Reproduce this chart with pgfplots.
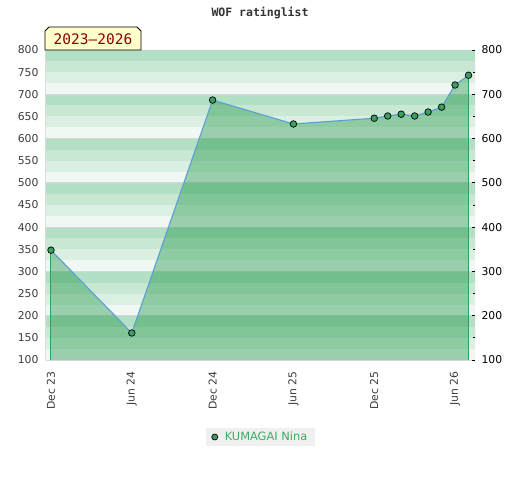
\documentclass[border=0pt]{standalone}
\usepackage{fontspec}
\setmainfont{DejaVu Sans}
\newfontfamily\monofont{DejaVu Sans Mono}
\usepackage{pgfplots}
\pgfplotsset{compat=1.18}
\definecolor{s1}{RGB}{179,223,196}
\definecolor{s2}{RGB}{200,232,211}
\definecolor{s3}{RGB}{220,239,227}
\definecolor{s4}{RGB}{240,248,243}
\definecolor{gridg}{RGB}{215,215,215}
\definecolor{fillg}{RGB}{4,137,49}
\definecolor{edgeg}{RGB}{50,160,90}
\definecolor{lineb}{RGB}{90,160,215}
\definecolor{markg}{RGB}{58,160,95}
\definecolor{legbg}{RGB}{240,240,240}
\definecolor{legtext}{RGB}{60,170,100}
\definecolor{ticktext}{RGB}{60,60,60}
\definecolor{boxbg}{RGB}{255,255,204}
\definecolor{boxtext}{RGB}{140,0,0}
\definecolor{axisgray}{RGB}{220,220,220}
\begin{document}
\begin{tikzpicture}
\path[use as bounding box] (0,0) rectangle (520pt,480pt);
\begin{axis}[
  at={(46pt,120pt)}, anchor=south west,
  scale only axis, width=429pt, height=310pt,
  xmin=-0.37, xmax=31.48, ymin=100, ymax=800,
  axis x line*=bottom, axis y line*=left,
  axis line style={draw=axisgray, line width=1.5pt},
  xtick={0,6,12,18,24,30},
  xticklabels={Dec 23,Jun 24,Dec 24,Jun 25,Dec 25,Jun 26},
  ytick={100,150,...,800},
  major tick length=0pt,
  tick style={draw=none},
  /pgf/number format/assume math mode=true,
  tick label style={font=\fontsize{10.8}{12}\selectfont, text=ticktext},
  x tick label style={yshift=-8pt, rotate=90, anchor=east},
  y tick label style={xshift=-4pt},
  legend style={at={(0.5,0)}, anchor=center, yshift=-77pt, fill=legbg, draw=none,
    font=\fontsize{11.4}{13}\selectfont, text=legtext, inner xsep=6pt, inner ysep=2pt,
    column sep=5pt},
]
% background stripes
\fill[s1] (axis cs:-5,775) rectangle (axis cs:40,800);
\fill[s2] (axis cs:-5,750) rectangle (axis cs:40,775);
\fill[s3] (axis cs:-5,725) rectangle (axis cs:40,750);
\fill[s4] (axis cs:-5,700) rectangle (axis cs:40,725);
\fill[s1] (axis cs:-5,675) rectangle (axis cs:40,700);
\fill[s2] (axis cs:-5,650) rectangle (axis cs:40,675);
\fill[s3] (axis cs:-5,625) rectangle (axis cs:40,650);
\fill[s4] (axis cs:-5,600) rectangle (axis cs:40,625);
\fill[s1] (axis cs:-5,575) rectangle (axis cs:40,600);
\fill[s2] (axis cs:-5,550) rectangle (axis cs:40,575);
\fill[s3] (axis cs:-5,525) rectangle (axis cs:40,550);
\fill[s4] (axis cs:-5,500) rectangle (axis cs:40,525);
\fill[s1] (axis cs:-5,475) rectangle (axis cs:40,500);
\fill[s2] (axis cs:-5,450) rectangle (axis cs:40,475);
\fill[s3] (axis cs:-5,425) rectangle (axis cs:40,450);
\fill[s4] (axis cs:-5,400) rectangle (axis cs:40,425);
\fill[s1] (axis cs:-5,375) rectangle (axis cs:40,400);
\fill[s2] (axis cs:-5,350) rectangle (axis cs:40,375);
\fill[s3] (axis cs:-5,325) rectangle (axis cs:40,350);
\fill[s4] (axis cs:-5,300) rectangle (axis cs:40,325);
\fill[s1] (axis cs:-5,275) rectangle (axis cs:40,300);
\fill[s2] (axis cs:-5,250) rectangle (axis cs:40,275);
\fill[s3] (axis cs:-5,225) rectangle (axis cs:40,250);
\fill[s4] (axis cs:-5,200) rectangle (axis cs:40,225);
\fill[s1] (axis cs:-5,175) rectangle (axis cs:40,200);
\fill[s2] (axis cs:-5,150) rectangle (axis cs:40,175);
\fill[s3] (axis cs:-5,125) rectangle (axis cs:40,150);
\fill[s4] (axis cs:-5,100) rectangle (axis cs:40,125);
\pgfplotsinvokeforeach{200,300,400,500,600,700}{
  \draw[gridg, line width=0.8pt] (axis cs:-5,#1) -- (axis cs:40,#1);
}
% area
\addplot[draw=none, fill=fillg, fill opacity=0.36, forget plot] coordinates {
(0,100) (0,348) (6,161) (12,687) (18,633) (24,646) (25,651) (26,655) (27,651) (28,660) (29,671) (30,721) (31,743) (31,100)} -- cycle;
\addplot[edgeg, line width=1pt, forget plot] coordinates {(0,100) (0,348)};
\addplot[edgeg, line width=1pt, forget plot] coordinates {(31,100) (31,743)};
\addplot[lineb, line width=1.1pt, mark=*, mark size=3.3pt,
  mark options={fill=markg, draw=black, line width=0.7pt}, forget plot] coordinates {
(0,348) (6,161) (12,687) (18,633) (24,646) (25,651) (26,655) (27,651) (28,660) (29,671) (30,721) (31,743)};
\addlegendimage{only marks, mark=*, mark size=3pt, mark options={fill=markg, draw=black, line width=0.7pt}}
\addlegendentry{KUMAGAI Nina}
\end{axis}
\begin{axis}[
  at={(46pt,120pt)}, anchor=south west,
  scale only axis, width=429pt, height=310pt,
  xmin=-0.37, xmax=31.48, ymin=100, ymax=800,
  axis x line=none, axis y line*=right,
  y axis line style={draw=none},
  ytick={100,200,...,800},
  minor ytick={150,250,...,750},
  tick align=inside,
  major tick length=3pt, minor tick length=2pt,
  tick style={draw=black, line width=0.8pt},
  /pgf/number format/assume math mode=true,
  y tick label style={font=\fontsize{10.8}{12}\selectfont, text=black, xshift=3pt},
]
\addplot[draw=none, forget plot] coordinates {(0,100)};
\end{axis}
\node[font=\monofont\bfseries\fontsize{11.5}{12}\selectfont, text=black!80] at (260pt,467pt) {WOF ratinglist};
\draw[fill=boxbg, line width=0.8pt] (45pt,430pt) -- (45pt,449pt) -- (49pt,453pt) -- (137pt,453pt) -- (141pt,449pt) -- (141pt,430pt) -- cycle;
\node[font=\monofont\fontsize{14.5}{16}\selectfont, text=boxtext] at (93pt,441pt) {2023–2026};
\end{tikzpicture}
\end{document}
